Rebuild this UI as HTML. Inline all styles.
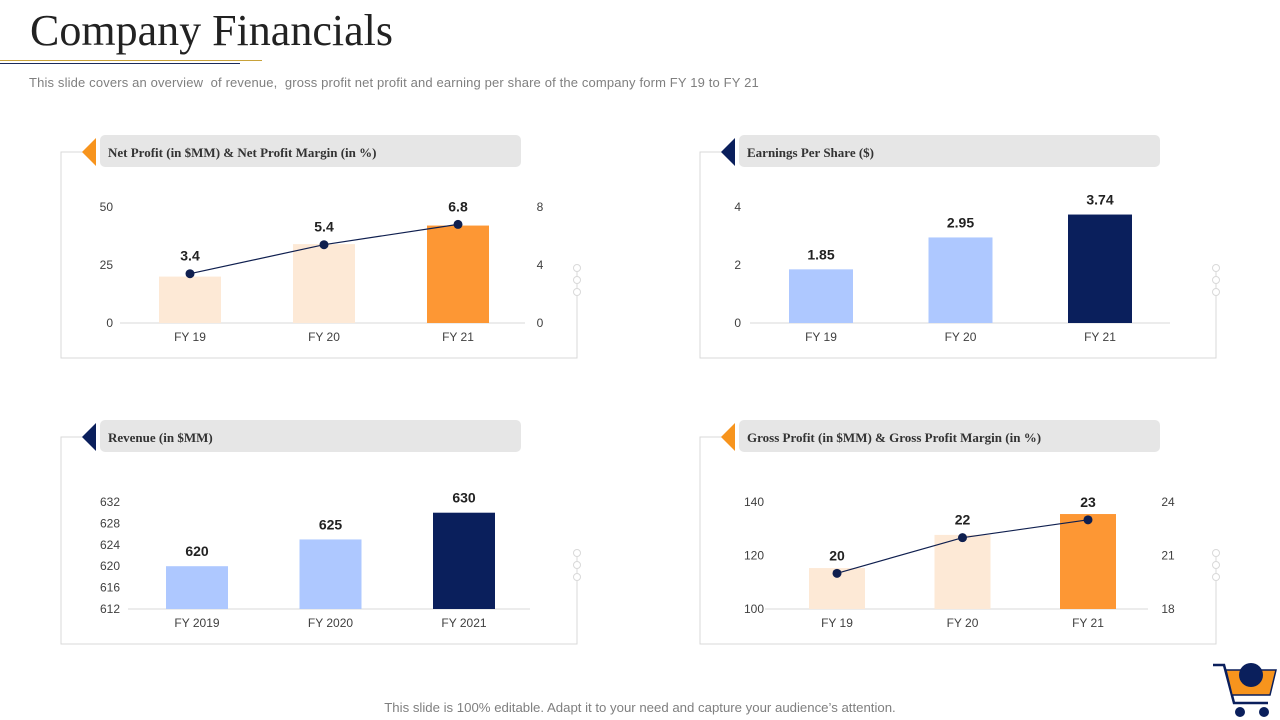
<!DOCTYPE html>
<html><head><meta charset="utf-8"><style>
body{margin:0;width:1280px;height:720px;background:#fff;overflow:hidden;position:relative;font-family:"Liberation Sans",sans-serif}
.t{position:absolute;white-space:nowrap}
</style></head><body>
<div class="t" style="left:30px;top:5px;font-family:'Liberation Serif',serif;font-size:44px;color:#222">Company Financials</div>
<div style="position:absolute;left:0;top:60px;width:262px;height:1px;background:#c8a23a"></div>
<div style="position:absolute;left:0;top:63px;width:240px;height:1px;background:#1a2a5a"></div>
<div class="t" style="left:29px;top:75px;font-size:13px;letter-spacing:0.15px;color:#7f7f7f">This slide covers an overview &nbsp;of revenue, &nbsp;gross profit net profit and earning per share of the company form FY 19 to FY 21</div>
<div class="t" style="left:0;width:1280px;text-align:center;top:700px;font-size:13.2px;color:#7f7f7f">This slide is 100% editable. Adapt it to your need and capture your audience’s attention.</div>
<svg id="s" width="1280" height="720" style="position:absolute;left:0;top:0"></svg>
<script>
// Net profit chart
const npCats = ["FY 19","FY 20","FY 21"];
const npBars = [20, 34, 42];
const npLine = [3.4, 5.4, 6.8];
const npLeftTicks = [0, 25, 50];
const npRightTicks = [0, 4, 8];
// EPS chart
const epsCats = ["FY 19","FY 20","FY 21"];
const epsBars = [1.85, 2.95, 3.74];
const epsTicks = [0, 2, 4];
// Revenue chart
const revCats = ["FY 2019","FY 2020","FY 2021"];
const revBars = [620, 625, 630];
const revTicks = [612, 616, 620, 624, 628, 632];
// Gross profit chart
const gpCats = ["FY 19","FY 20","FY 21"];
const gpBars = [115.3, 127.7, 135.5];
const gpLine = [20, 22, 23];
const gpLeftTicks = [100, 120, 140];
const gpRightTicks = [18, 21, 24];

const NS="http://www.w3.org/2000/svg";
const svg=document.getElementById('s');
function el(tag,attrs,parent){const e=document.createElementNS(NS,tag);for(const k in attrs)e.setAttribute(k,attrs[k]);(parent||svg).appendChild(e);return e;}
function txt(x,y,s,attrs,parent){const t=el('text',Object.assign({x:x,y:y,'font-family':'Liberation Sans, sans-serif'},attrs),parent);t.textContent=s;return t;}

function panel(name,x0,x1,yTop,yBot,title,triColor){
  const g=el('g',{});
  
  
  const st={stroke:'#d9d9d9','stroke-width':1,fill:'none'};
  el('polyline',Object.assign({points:`${x0+24},${yTop} ${x0},${yTop} ${x0},${yBot} ${x1},${yBot} ${x1},${yTop+113}`},st),g);
  [0,12,24].forEach(d=>el('circle',{cx:x1,cy:yTop+116+d,r:3.5,fill:'#fff',stroke:'#d9d9d9'},g));
  const bar=el('rect',{x:x0+39,y:yTop-17,width:421,height:32,rx:5,fill:'#e6e6e6'},g);
  
  
  el('polygon',{points:`${x0+35},${yTop-14} ${x0+35},${yTop+14} ${x0+21},${yTop}`,fill:triColor},g);
  const t=txt(x0+47,yTop+5,title,{'font-family':'Liberation Serif, serif','font-weight':'bold','font-size':13,fill:'#333'},g);
  
  
}

function chart(o){
  const g=el('g',{});
  
  
  const yl=v=>o.base-(v-o.lmin)/(o.lmax-o.lmin)*o.h;
  el('line',{x1:o.bx0,x2:o.bx1,y1:o.base,y2:o.base,stroke:'#d9d9d9'},g);
  o.lt.forEach(v=>{const t=txt(o.lx,yl(v)+4,String(v),{'font-size':12,fill:'#404040','text-anchor':'end'},g);
    });
  let yr=null;
  if(o.rt){yr=v=>o.base-(v-o.rmin)/(o.rmax-o.rmin)*o.h;
    o.rt.forEach(v=>{const t=txt(o.rx,yr(v)+4,String(v),{'font-size':12,fill:'#404040','text-anchor':'middle'},g);
      });}
  o.cats.forEach((c,i)=>{
    const cx=o.cx0+i*o.step, v=o.bars[i];
    const r=el('rect',{x:cx-o.bw/2,y:yl(v),width:o.bw,height:o.base-yl(v),fill:o.colors[i]},g);
    
    
    const xl=txt(cx,o.base+18,c,{'font-size':12,fill:'#404040','text-anchor':'middle'},g);
    
    if(!o.line){const vl=txt(cx,yl(v)-10,String(v),{'font-size':14,'font-weight':'bold',fill:'#222','text-anchor':'middle'},g);
      }
  });
  if(o.line){
    const pts=o.line.map((v,i)=>[o.cx0+i*o.step,yr(v)]);
    const pl=el('polyline',{points:pts.map(p=>p.join(',')).join(' '),fill:'none',stroke:'#0f1f4f','stroke-width':1.2},g);
    
    pts.forEach((p,i)=>{const c=el('circle',{cx:p[0],cy:p[1],r:4.5,fill:'#0f1f4f'},g);
      
      const l=txt(p[0],p[1]-13,String(o.line[i]),{'font-size':14,'font-weight':'bold',fill:'#222','text-anchor':'middle'},g);
      });
  }
}
const OR='#fd9734', PE='#fde9d6', LB='#aec8ff', NV='#0a1f5c';
panel('net-profit',61,577,152,358,'Net Profit (in $MM) & Net Profit Margin (in %)','#f7941d');
panel('eps',700,1216,152,358,'Earnings Per Share ($)',NV);
panel('revenue',61,577,437,644,'Revenue (in $MM)',NV);
panel('gross-profit',700,1216,437,644,'Gross Profit (in $MM) & Gross Profit Margin (in %)','#f7941d');
chart({name:'net-profit',cats:npCats,bars:npBars,line:npLine,lt:npLeftTicks,rt:npRightTicks,lmin:0,lmax:50,rmin:0,rmax:8,base:323,h:116,lx:113,rx:540,bx0:120,bx1:525,cx0:190,step:134,bw:62,colors:[PE,PE,OR]});
chart({name:'eps',cats:epsCats,bars:epsBars,lt:epsTicks,lmin:0,lmax:4,base:323,h:116,lx:741,bx0:750,bx1:1170,cx0:821,step:139.5,bw:64,colors:[LB,LB,NV]});
chart({name:'revenue',cats:revCats,bars:revBars,lt:revTicks,lmin:612,lmax:632,base:609,h:107,lx:120,bx0:128,bx1:530,cx0:197,step:133.5,bw:62,colors:[LB,LB,NV]});
chart({name:'gross-profit',cats:gpCats,bars:gpBars,line:gpLine,lt:gpLeftTicks,rt:gpRightTicks,lmin:100,lmax:140,rmin:18,rmax:24,base:609,h:107,lx:764,rx:1168,bx0:765,bx1:1148,cx0:837,step:125.5,bw:56,colors:[PE,PE,OR]});
// cart icon
const cart=el('g',{});


el('polyline',{points:'1213,665 1224,665 1234,703 1268,703',fill:'none',stroke:'#0a1f5c','stroke-width':2.5},cart);
el('polygon',{points:'1226,670 1276,670 1270,695 1232,695',fill:'#f7941d',stroke:'#0a1f5c','stroke-width':1.5},cart);
el('circle',{cx:1251,cy:675,r:12,fill:'#0a1f5c'},cart);
el('circle',{cx:1240,cy:712,r:5,fill:'#0a1f5c'},cart);
el('circle',{cx:1264,cy:712,r:5,fill:'#0a1f5c'},cart);
</script>
</body></html>
